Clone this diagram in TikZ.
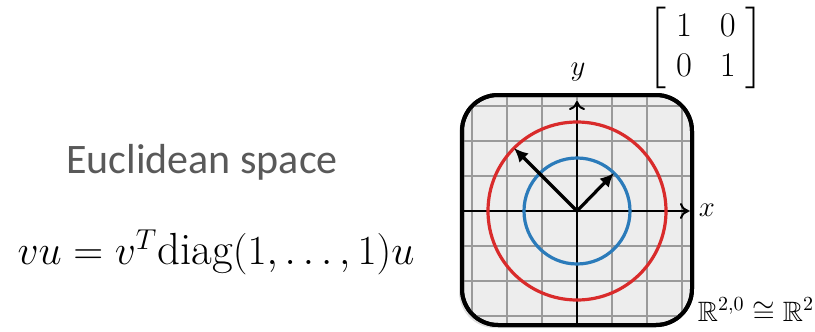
\documentclass[tikz,border=0pt]{standalone}
\usepackage{amsmath,amssymb}
\usepackage{fontspec}
\newfontfamily\labelfont{Carlito}
\usetikzlibrary{arrows.meta,positioning,shadows}
\definecolor{boxfill}{HTML}{EDEDED}
\definecolor{gridgray}{HTML}{9A9A9A}
\definecolor{circred}{HTML}{D92B2B}
\definecolor{circblue}{HTML}{2B7BBA}
\definecolor{textgray}{HTML}{595959}

\begin{document}
\begin{tikzpicture}[x=0.5pt, y=-0.5pt,
    planebox/.style={draw=black, line width=2pt, fill=boxfill, rounded corners=18pt,
        drop shadow={opacity=0.25, shadow xshift=-1.5pt, shadow yshift=-1.5pt}},
    gridline/.style={draw=gridgray, line width=0.6pt},
    axis/.style={line width=1pt, -{To[length=4.5pt, width=8pt]}},
    vec/.style={line width=1.6pt, -{Latex[length=7pt, width=6.5pt]}},
    ring/.style={line width=1.6pt}
]
    \useasboundingbox (0,0) rectangle (815,332);

    % Plane box
    \path[planebox] (462,95) rectangle (692,325);
    \coordinate (O) at (577,211);

    % Grid
    \begin{scope}
        \clip[rounded corners=18pt] (462,95) rectangle (692,325);
        \foreach \k in {-3,...,3} {
            \draw[gridline] (577+35*\k,95) -- (577+35*\k,325);
            \draw[gridline] (462,211+35*\k) -- (692,211+35*\k);
        }
    \end{scope}
    \draw[line width=2pt, rounded corners=18pt] (462,95) rectangle (692,325);

    % Axes
    \coordinate (xs) at (462,211);
    \coordinate (xe) at (689,211);
    \coordinate (ys) at (577,325);
    \coordinate (ye) at (577,101);
    \draw[axis] (xs) -- (xe);
    \draw[axis] (ys) -- (ye);
    \node[font=\fontsize{14pt}{16pt}\selectfont] (xl) at (707,210) {$x$};
    \node[font=\fontsize{14pt}{16pt}\selectfont] (yl) at (578,72) {$y$};

    % Circles
    \draw[ring, draw=circred] (O) circle (89);
    \draw[ring, draw=circblue] (O) circle (53);

    % Vectors
    \coordinate (v1) at (514,148);
    \coordinate (v2) at (614,173);
    \draw[vec] (O) -- (v1);
    \draw[vec] (O) -- (v2);

    % Labels
    \node[inner sep=0pt, font=\fontsize{17pt}{20pt}\selectfont] (mat) at (706,48)
        {\setlength\arraycolsep{7pt}$\left[\;\begin{matrix} 1 & 0\\ 0 & 1\end{matrix}\;\right]$};
    \node[font=\fontsize{14pt}{16pt}\selectfont] (space) at (756,310) {$\mathbb{R}^{2,0}\cong\mathbb{R}^2$};
    \node[font=\labelfont\fontsize{21pt}{24pt}\selectfont, text=textgray] (name) at (202,162) {Euclidean space};
    \node[font=\fontsize{22.5pt}{26pt}\selectfont] (form) at (216,252) {$vu = v^T\mathrm{diag}(1,\ldots,1)u$};
\end{tikzpicture}
\end{document}
